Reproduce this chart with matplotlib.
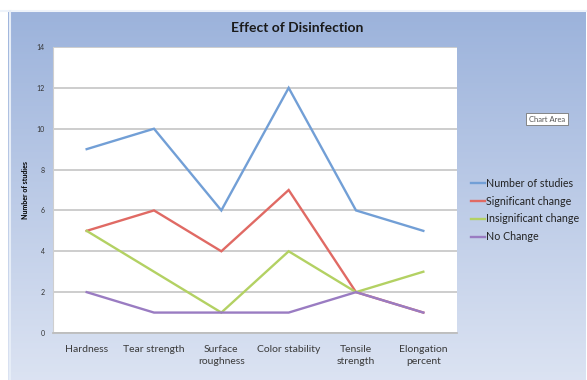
import numpy as np
import matplotlib
matplotlib.use("Agg")
import matplotlib.pyplot as plt

categories = ["Hardness", "Tear strength", "Surface\nroughness", "Color stability",
              "Tensile\nstrength", "Elongation\npercent"]
n_studies = [9, 10, 6, 12, 6, 5]
significant = [5, 6, 4, 7, 2, 1]
insignificant = [5, 3, 1, 4, 2, 3]
no_change = [2, 1, 1, 1, 2, 1]

series = [
    ("Number of studies", n_studies, "#729fd6"),
    ("Significant change", significant, "#e06a64"),
    ("Insignificant change", insignificant, "#b3d163"),
    ("No Change", no_change, "#9a7cc2"),
]

plt.rcParams['font.family'] = ['Lato', 'DejaVu Sans']

W, H = 587, 380
fig = plt.figure(figsize=(W / 100, H / 100), dpi=100)
fig.patch.set_facecolor("white")

# gradient chart area background
bg = fig.add_axes([8 / W, 0, 1 - 9 / W, 1 - 10 / H])
top = np.array([0.61, 0.70, 0.86])
bot = np.array([0.86, 0.89, 0.95])
t = np.linspace(0, 1, 256)[:, None]
grad = top * (1 - t[..., None]) + bot * t[..., None]
grad = np.repeat(grad, 4, axis=1)
bg.imshow(grad, aspect="auto", extent=[0, 1, 0, 1])
bg.set_axis_off()
# light frame lines
fig.add_artist(plt.Line2D([0, 1], [1 - 11 / H, 1 - 11 / H], color="#eef3fa", lw=1.5))
fig.add_artist(plt.Line2D([10 / W, 10 / W], [0, 1 - 11 / H], color="#e6edf7", lw=1.5))

ax = fig.add_axes([53 / W, 1 - 333 / H, (457 - 53) / W, (333 - 47) / H])
ax.set_facecolor("white")
x = np.arange(len(categories))
for name, vals, col in series:
    ax.plot(x, vals, color=col, lw=1.7, label=name, solid_joinstyle="miter")

ax.set_xlim(-0.5, len(categories) - 0.5)
ax.set_ylim(0, 14)
ax.set_yticks(range(0, 15, 2))
ax.yaxis.grid(True, color="#c9c9c9", lw=1.3)
ax.set_axisbelow(True)
for s in ["top", "right"]:
    ax.spines[s].set_visible(False)
ax.spines["left"].set_color("#cfcfcf")
ax.spines["bottom"].set_color("#bdbdbd")
ax.spines["bottom"].set_linewidth(1.3)
ax.tick_params(axis="y", length=0, labelsize=5, pad=6, labelcolor="#333333")
ax.tick_params(axis="x", length=0, labelsize=7.5, pad=9, labelcolor="#3a3a3a")
ax.set_xticks(x)
ax.set_xticklabels(categories, linespacing=1.3)
ax.set_ylabel("Number of studies", fontsize=5, fontweight="bold", labelpad=5)

fig.text(297 / W, 1 - 28 / H, "Effect of Disinfection", ha="center", va="center",
         fontsize=10, fontweight="bold", color="#1a1a1a")

leg = ax.legend(loc="center left", bbox_to_anchor=(467 / W, 1 - 210 / H),
                bbox_transform=fig.transFigure, frameon=False, fontsize=7.7,
                handlelength=1.3, handletextpad=0.1, labelspacing=0.65,
                borderaxespad=0)
for txt in leg.get_texts():
    txt.set_color("#222222")

fig.text(547 / W, 1 - 119 / H, "Chart Area", ha="center", va="center", fontsize=5.5,
         color="#555555",
         bbox=dict(boxstyle="square,pad=0.35", fc="white", ec="#777777", lw=0.6))

fig.savefig("out.png", dpi=100)
